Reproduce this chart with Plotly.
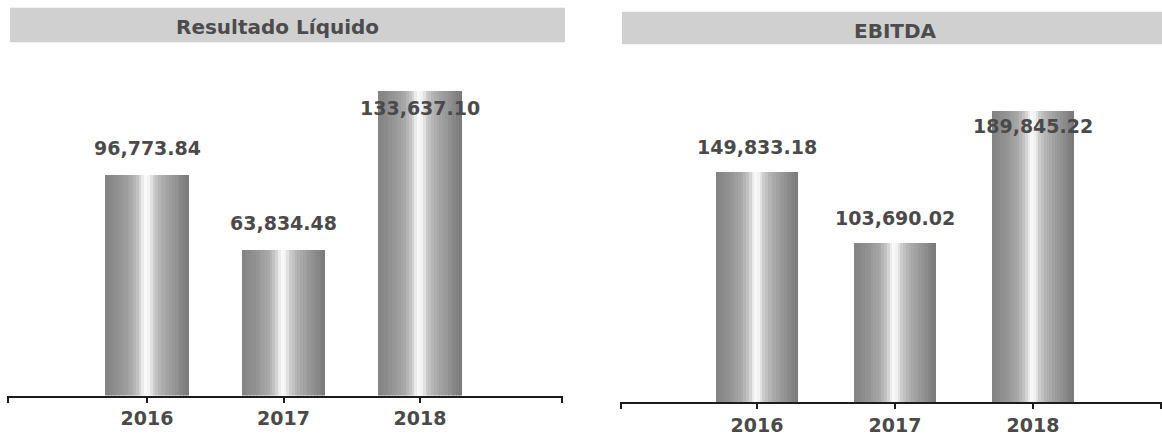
import plotly.graph_objects as go

# ---------------- data ----------------
years = ["2016", "2017", "2018"]
resultado_liquido = [96773.84, 63834.48, 133637.10]
ebitda = [149833.18, 103690.02, 189845.22]
titles = ["Resultado Líquido", "EBITDA"]

# ---------------- styling / layout constants ----------------
W, H = 1162, 436
FONT = "DejaVu Sans"
TXT = "#4a4a4a"
AXIS = "#1c1c1c"
N_SLICES = 30

# cylinder shading profile across a bar (position 0..1 -> gray level)
profile = [(0.00, 130), (0.18, 148), (0.32, 170), (0.40, 200), (0.45, 235),
           (0.49, 250), (0.53, 238), (0.58, 205), (0.66, 178), (0.82, 150), (1.00, 120)]


def gray_at(t):
    for (t0, g0), (t1, g1) in zip(profile[:-1], profile[1:]):
        if t0 <= t <= t1:
            g = int(round(g0 + (g1 - g0) * (t - t0) / (t1 - t0)))
            return f"rgb({g},{g},{g})"
    return "rgb(128,128,128)"


# per-panel geometry (pixels in the 1162x436 page)
panels = [
    dict(values=resultado_liquido, title=titles[0], xpx=(7, 563), first_center=147, step=136.5,
         base_px=402, top_px=60, px_per_unit=0.002315, bar_w=0.61, label_gap=28,
         label_cap_px=110, banner=(10, 565, 8, 43), title_pos=(277, 27)),
    dict(values=ebitda, title=titles[1], xpx=(620, 1162), first_center=757, step=138,
         base_px=409, top_px=60, px_per_unit=0.00156, bar_w=0.59, label_gap=26,
         label_cap_px=128, banner=(622, 1162, 12, 45), title_pos=(895, 31)),
]

fig = go.Figure()
shapes, annotations = [], []
layout_axes = {}

for k, p in enumerate(panels):
    xa = "x" if k == 0 else f"x{k+1}"
    ya = "y" if k == 0 else f"y{k+1}"
    xs = list(range(len(years)))
    w = p["bar_w"]
    sw = w / N_SLICES
    for i in range(N_SLICES):
        t = (i + 0.5) / N_SLICES
        width = sw * 1.3 if i < N_SLICES - 1 else sw
        fig.add_trace(go.Bar(
            x=xs, y=p["values"], xaxis=xa, yaxis=ya,
            width=width, offset=-w / 2 + i * sw,
            marker=dict(color=gray_at(t), line=dict(width=0)),
            hoverinfo="skip", showlegend=False,
        ))

    plot_h_px = p["base_px"] - p["top_px"]
    ymax = plot_h_px / p["px_per_unit"]
    d0, d1 = p["xpx"]
    a = -(p["first_center"] - d0) / p["step"]
    b = a + (d1 - d0) / p["step"]
    xd = (d0 / W, d1 / W)
    yd = (1 - p["base_px"] / H, 1 - p["top_px"] / H)
    eps = 0.006
    key_x = "xaxis" if k == 0 else f"xaxis{k+1}"
    key_y = "yaxis" if k == 0 else f"yaxis{k+1}"
    layout_axes[key_x] = dict(
        domain=list(xd), range=[a, b], anchor=ya,
        showgrid=False, zeroline=False, showline=True, linecolor=AXIS, linewidth=2,
        ticks="outside", ticklen=5, tickwidth=2, tickcolor=AXIS,
        tickvals=[a + eps] + xs + [b - eps], ticktext=[""] + years + [""],
        tickfont=dict(family=FONT, size=19, color=TXT, weight="bold"),
        fixedrange=True,
    )
    layout_axes[key_y] = dict(
        domain=list(yd), range=[0, ymax], anchor=xa, visible=False,
        showgrid=False, zeroline=False, fixedrange=True,
    )

    # value labels: above the bar, kept below a ceiling (as in the source chart)
    cap_val = (p["base_px"] - p["label_cap_px"]) / p["px_per_unit"]
    gap_val = p["label_gap"] / p["px_per_unit"]
    for xi, v in zip(xs, p["values"]):
        annotations.append(dict(
            x=xi, y=min(v + gap_val, cap_val), xref=xa, yref=ya,
            text=f"{v:,.2f}", showarrow=False, yanchor="middle", xanchor="center",
            font=dict(family=FONT, size=19, color=TXT, weight="bold"),
        ))

    # title banner
    bx0, bx1, by0, by1 = p["banner"]
    shapes.append(dict(type="rect", xref="paper", yref="paper",
                       x0=bx0 / W, x1=bx1 / W, y0=1 - by1 / H, y1=1 - by0 / H,
                       fillcolor="#d0d0d0", line=dict(width=0), layer="below"))
    tx, ty = p["title_pos"]
    annotations.append(dict(
        x=tx / W, y=1 - ty / H, xref="paper", yref="paper", text=p["title"],
        showarrow=False, xanchor="center", yanchor="middle",
        font=dict(family=FONT, size=20, color="#4c4c4c", weight="bold"),
    ))

fig.update_layout(
    width=W, height=H,
    margin=dict(l=0, r=0, t=0, b=0),
    paper_bgcolor="white", plot_bgcolor="white",
    barmode="overlay", bargap=0,
    shapes=shapes, annotations=annotations,
    showlegend=False,
    **layout_axes,
)

fig.write_html(
    "out.html",
    config={"displayModeBar": False},
    post_script="document.body.style.margin='0px';document.body.style.overflow='hidden';",
)
